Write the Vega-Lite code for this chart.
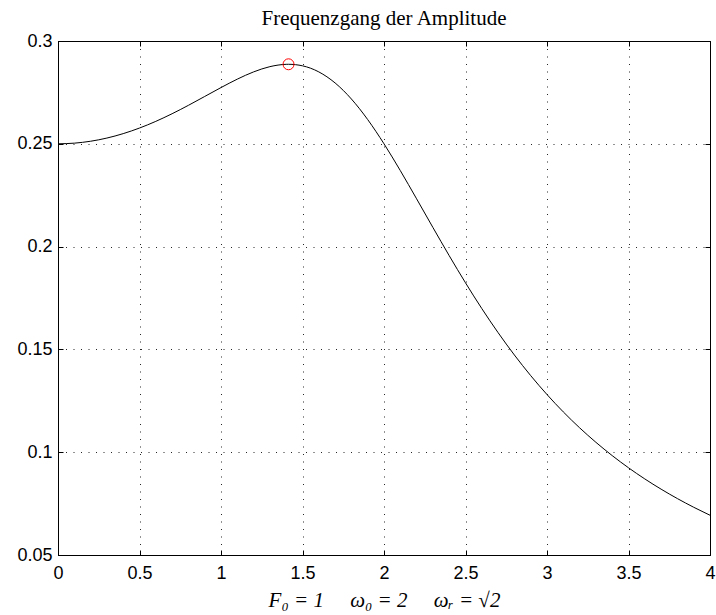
{
  "$schema": "https://vega.github.io/schema/vega-lite/v6.json",
  "width": 652,
  "height": 514,
  "autosize": {"type": "none"},
  "padding": {"left": 58, "top": 41, "right": 6, "bottom": 60},
  "background": "white",
  "title": {
    "text": "Frequenzgang der Amplitude",
    "font": "Liberation Serif",
    "fontSize": 21,
    "fontWeight": "normal",
    "color": "#000",
    "offset": 3
  },
  "datasets": {
    "curve": [
      {"w": 0.0, "A": 0.25},
      {"w": 0.1, "A": 0.250312},
      {"w": 0.2, "A": 0.251247},
      {"w": 0.3, "A": 0.252796},
      {"w": 0.4, "A": 0.254942},
      {"w": 0.5, "A": 0.257663},
      {"w": 0.6, "A": 0.260913},
      {"w": 0.7, "A": 0.264627},
      {"w": 0.8, "A": 0.268708},
      {"w": 0.9, "A": 0.273016},
      {"w": 1.0, "A": 0.27735},
      {"w": 1.1, "A": 0.281449},
      {"w": 1.2, "A": 0.284975},
      {"w": 1.3, "A": 0.287526},
      {"w": 1.4, "A": 0.288656},
      {"w": 1.41421, "A": 0.288675},
      {"w": 1.5, "A": 0.287929},
      {"w": 1.6, "A": 0.284975},
      {"w": 1.7, "A": 0.279595},
      {"w": 1.8, "A": 0.271787},
      {"w": 1.9, "A": 0.261783},
      {"w": 2.0, "A": 0.25},
      {"w": 2.1, "A": 0.236969},
      {"w": 2.2, "A": 0.223241},
      {"w": 2.3, "A": 0.209316},
      {"w": 2.4, "A": 0.1956},
      {"w": 2.5, "A": 0.182384},
      {"w": 2.6, "A": 0.169864},
      {"w": 2.7, "A": 0.158145},
      {"w": 2.8, "A": 0.147273},
      {"w": 2.9, "A": 0.137246},
      {"w": 3.0, "A": 0.128037},
      {"w": 3.1, "A": 0.119598},
      {"w": 3.2, "A": 0.111875},
      {"w": 3.3, "A": 0.10481},
      {"w": 3.4, "A": 0.098345},
      {"w": 3.5, "A": 0.092425},
      {"w": 3.6, "A": 0.086999},
      {"w": 3.7, "A": 0.082018},
      {"w": 3.8, "A": 0.077439},
      {"w": 3.9, "A": 0.073224},
      {"w": 4.0, "A": 0.069338}
    ],
    "peak": [{"w": 1.41421, "A": 0.288675}]
  },
  "layer": [
    {
      "data": {"name": "curve"},
      "mark": {"type": "line", "color": "#000", "strokeWidth": 1, "interpolate": "monotone"},
      "encoding": {
        "x": {
          "field": "w", "type": "quantitative",
          "scale": {"domain": [0, 4], "nice": false, "zero": false},
          "axis": {
            "orient": "bottom",
            "values": [0, 0.5, 1, 1.5, 2, 2.5, 3, 3.5, 4],
            "format": "~g",
            "labelPadding": 14,
            "labelFlush": false,
            "title": "F\u2080 = 1\u00a0\u2003ω\u2080 = 2\u00a0\u2003ω\u1d63 = √2",
            "titleFont": "Liberation Serif",
            "titleFontStyle": "italic",
            "titleFontWeight": "normal",
            "titleFontSize": 21,
            "titleColor": "#000",
            "titlePadding": 7,
            "grid": true
          }
        },
        "y": {
          "field": "A", "type": "quantitative",
          "scale": {"domain": [0.05, 0.3], "nice": false, "zero": false},
          "axis": {
            "orient": "left",
            "values": [0.05, 0.1, 0.15, 0.2, 0.25, 0.3],
            "format": "~g",
            "labelPadding": 11,
            "labelFlush": false,
            "title": null,
            "grid": true
          }
        }
      }
    },
    {
      "data": {"name": "peak"},
      "mark": {"type": "point", "shape": "circle", "filled": false, "color": "#ff0000", "strokeWidth": 1, "size": 120, "opacity": 1},
      "encoding": {
        "x": {
          "field": "w", "type": "quantitative",
          "axis": {"orient": "top", "values": [0, 0.5, 1, 1.5, 2, 2.5, 3, 3.5, 4], "labels": false, "title": null, "grid": false, "domain": false}
        },
        "y": {
          "field": "A", "type": "quantitative",
          "axis": {"orient": "right", "values": [0.05, 0.1, 0.15, 0.2, 0.25, 0.3], "labels": false, "title": null, "grid": false, "domain": false}
        }
      }
    }
  ],
  "resolve": {"axis": {"x": "independent", "y": "independent"}},
  "config": {
    "view": {"stroke": "#000", "strokeWidth": 1},
    "axis": {
      "domainColor": "#000",
      "domainWidth": 1,
      "tickColor": "#000",
      "tickSize": -5,
      "tickWidth": 1,
      "labelFont": "Liberation Sans",
      "labelFontSize": 18,
      "labelColor": "#000",
      "gridColor": "#000",
      "gridWidth": 1,
      "gridDash": [1, 6.5],
      "gridOpacity": 0.85
    }
  }
}
